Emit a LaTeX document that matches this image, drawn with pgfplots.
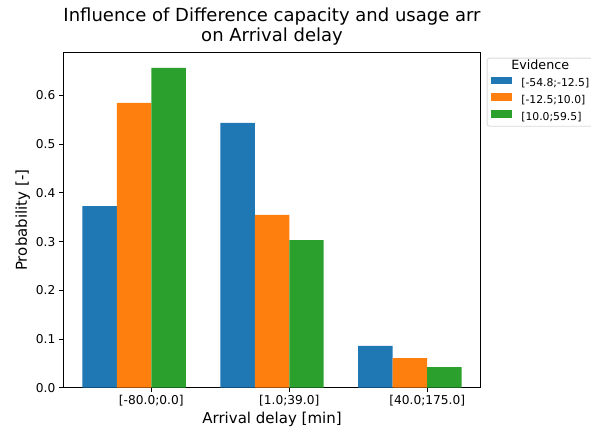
\documentclass[border=0pt]{standalone}
\usepackage{pgfplots}
\pgfplotsset{compat=1.18}
\usepackage{fontspec}
\setmainfont{DejaVu Sans}
\definecolor{c1}{HTML}{1F77B4}
\definecolor{c2}{HTML}{FF7F0E}
\definecolor{c3}{HTML}{2CA02C}
\newcommand{\lf}{\fontsize{10.8}{13}\selectfont}
\begin{document}
\begin{tikzpicture}[x=1pt,y=1pt]
\useasboundingbox (0,0) rectangle (591,432);
\begin{axis}[
  at={(63.3pt,44.3pt)}, anchor=south west,
  scale only axis, width=417.4pt, height=335pt,
  xmin=-0.6375, xmax=2.3875, ymin=0, ymax=0.688,
  xtick={0,1,2},
  xticklabels={{[-80.0;0.0]},{[1.0;39.0]},{[40.0;175.0]}},
  ytick={0,0.1,0.2,0.3,0.4,0.5,0.6},
  yticklabel style={/pgf/number format/fixed,/pgf/number format/precision=1,/pgf/number format/fixed zerofill},
  /pgf/number format/assume math mode=true,
  tick label style={font=\fontsize{12.2}{14}\selectfont},
  tick align=outside, tick pos=left,
  major tick length=4.4pt,
  every tick/.style={black, line width=1pt},
  axis line style={line width=1pt},
  xlabel={Arrival delay [min]},
  ylabel={Probability [-]},
  label style={font=\fontsize{15}{18}\selectfont},
  xlabel style={yshift=1pt},
  ylabel style={yshift=-1pt},
  title={Influence of Difference capacity and usage arr\\on Arrival delay},
  title style={align=center, font=\fontsize{18}{20}\selectfont, yshift=-2pt},
  legend style={at={(1.0144,0.985)}, anchor=north west,
    draw=black!15, line width=0.8pt, rounded corners=2.5pt,
    row sep=4.5pt, inner sep=3.5pt, column sep=9pt,
    nodes={inner sep=0pt, text height=8pt, text depth=2.5pt}},
  legend cell align=left,
  legend image code/.code={\fill[#1, sharp corners] (0pt,-0.2pt) rectangle (21.7pt,7.1pt);},
]
\addlegendimage{empty legend}
\addlegendentry{\hspace*{-10pt}\fontsize{12.7}{15}\selectfont Evidence}
\addplot[ybar, bar width=0.25, bar shift=0pt, fill=c1, draw=none] coordinates {(-0.375,0.373) (0.625,0.544) (1.625,0.086)};
\addlegendentry{\lf [-54.8;-12.5]}
\addplot[ybar, bar width=0.25, bar shift=0pt, fill=c2, draw=none] coordinates {(-0.125,0.585) (0.875,0.355) (1.875,0.061)};
\addlegendentry{\lf [-12.5;10.0]}
\addplot[ybar, bar width=0.25, bar shift=0pt, fill=c3, draw=none] coordinates {(0.125,0.657) (1.125,0.303) (2.125,0.0425)};
\addlegendentry{\lf [10.0;59.5]}
\end{axis}
\end{tikzpicture}
\end{document}
